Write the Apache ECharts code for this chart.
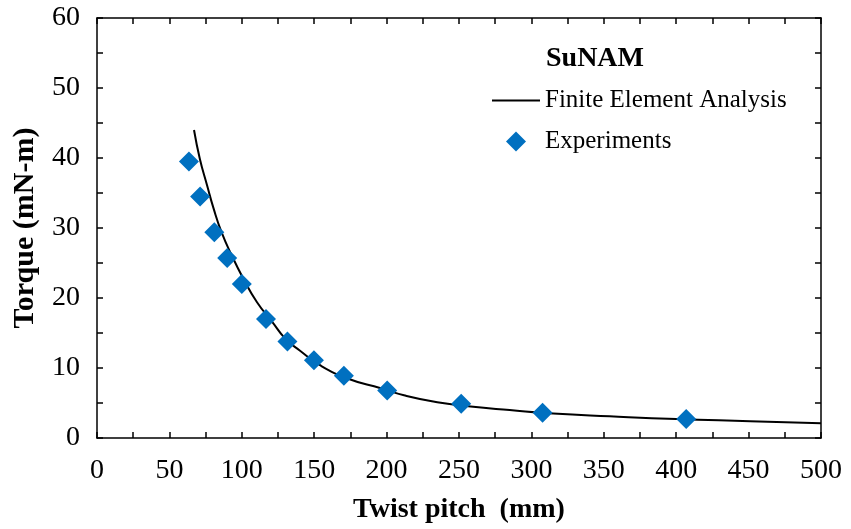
<!DOCTYPE html>
<html>
<head>
<meta charset="UTF-8">
<title>SuNAM torque vs twist pitch</title>
<script src="https://cdn.jsdelivr.net/npm/echarts@6/dist/echarts.min.js"></script>
<style>
html, body { margin: 0; padding: 0; background: #fff; }
#main { width: 851px; height: 529px; }
</style>
</head>
<body>
<div id="main"></div>
<script>
// FEA curve
var feaPitch  = [67, 71, 76, 80.5, 86, 93, 101, 110.5, 121, 130, 140, 154, 173, 196, 212, 235, 258, 285, 315, 354, 400, 451, 500];
var feaTorque = [44.0, 39.9, 36.1, 32.8, 29.4, 26.1, 22.8, 19.4, 16.6, 14.2, 12.5, 10.4, 8.5, 7.1, 6.1, 5.1, 4.5, 4.0, 3.5, 3.1, 2.7, 2.4, 2.1];

// measured points
var expPitch  = [63.5, 71.2, 81, 89.9, 100, 116.7, 131.5, 149.8, 170.5, 200.4, 251.5, 307.7, 406.9];
var expTorque = [39.5, 34.5, 29.4, 25.7, 22.0, 17.0, 13.8, 11.1, 8.9, 6.8, 4.9, 3.6, 2.7];

var font = '"Liberation Serif", "Times New Roman", serif';

function zip(a, b) {
  var out = [];
  for (var i = 0; i < a.length; i++) out.push([a[i], b[i]]);
  return out;
}

// one axis look for all four sides, ticks pointing in
function boxAxis(pos, isX, showLabel) {
  return {
    type: 'value',
    position: pos,
    min: 0,
    max: isX ? 500 : 60,
    interval: isX ? 50 : 10,
    axisLine: { show: true, onZero: false, lineStyle: { color: '#000', width: 1.5 } },
    axisTick: { show: true, inside: true, length: 6, lineStyle: { color: '#000', width: 1.5 } },
    minorTick: { show: true, splitNumber: 2, length: 6, lineStyle: { color: '#000', width: 1.5 } },
    splitLine: { show: false },
    axisLabel: {
      show: showLabel,
      color: '#000',
      fontFamily: font,
      fontSize: 28,
      margin: isX ? 19 : 17
    }
  };
}

var xBottom = boxAxis('bottom', true, true);
xBottom.name = 'Twist pitch  (mm)';
xBottom.nameLocation = 'middle';
xBottom.nameGap = 58;
xBottom.nameTextStyle = { color: '#000', fontFamily: font, fontSize: 28, fontWeight: 'bold' };

var yLeft = boxAxis('left', false, true);
yLeft.name = 'Torque (mN-m)';
yLeft.nameLocation = 'middle';
yLeft.nameGap = 57;
yLeft.nameTextStyle = { color: '#000', fontFamily: font, fontSize: 30, fontWeight: 'bold' };

var chart = echarts.init(document.getElementById('main'));
chart.setOption({
  animation: false,
  backgroundColor: '#fff',
  grid: { left: 97, right: 30, top: 18, bottom: 91 },
  title: {
    text: 'SuNAM',
    left: 541,
    top: 40,
    textStyle: { color: '#000', fontFamily: font, fontSize: 28, fontWeight: 'bold' }
  },
  legend: {
    orient: 'vertical',
    left: 487,
    top: 83,
    itemWidth: 48,
    itemHeight: 20,
    itemGap: 16,
    symbolKeepAspect: true,
    textStyle: { color: '#000', fontFamily: font, fontSize: 25, lineHeight: 24 },
    data: [
      { name: 'Finite Element Analysis', icon: 'path://M0,0H48V2H0Z' },
      { name: 'Experiments', icon: 'path://M0,-1L1,0L0,1L-1,0Z' }
    ]
  },
  xAxis: [xBottom, boxAxis('top', true, false)],
  yAxis: [yLeft, boxAxis('right', false, false)],
  series: [
    {
      name: 'Finite Element Analysis',
      type: 'line',
      smooth: true,
      symbol: 'none',
      data: zip(feaPitch, feaTorque),
      lineStyle: { color: '#000', width: 2 },
      itemStyle: { color: '#000' },
      z: 2
    },
    {
      name: 'Experiments',
      type: 'scatter',
      symbol: 'diamond',
      symbolSize: 20,
      data: zip(expPitch, expTorque),
      itemStyle: { color: '#0070C0', opacity: 1 },
      z: 3
    }
  ]
});
</script>
</body>
</html>
